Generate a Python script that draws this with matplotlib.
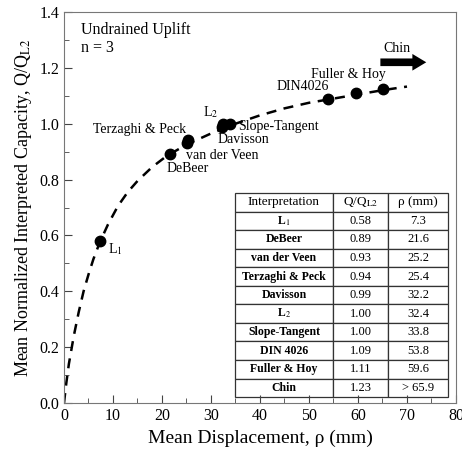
import matplotlib
matplotlib.use("Agg")
import matplotlib.pyplot as plt
from matplotlib.ticker import MultipleLocator

plt.rcParams['font.family'] = ['Liberation Serif', 'DejaVu Serif']
plt.rcParams['mathtext.fontset'] = 'stix'

# interpreted points (mean displacement, normalized capacity)
pt_x = [7.3, 21.6, 25.2, 25.4, 32.2, 32.4, 33.8, 53.8, 59.6, 65.1]
pt_y = [0.58, 0.89, 0.93, 0.94, 0.99, 1.00, 1.00, 1.09, 1.11, 1.125]

# dashed curve
curve_x = [0, 0.5, 1, 2, 3, 4, 5, 6, 7.3, 9, 11, 13, 15, 18, 21, 25, 30, 35,
           40, 45, 50, 55, 60, 65, 70]
curve_y = [0, 0.075, 0.14, 0.24, 0.325, 0.40, 0.46, 0.515, 0.575, 0.64, 0.705,
           0.755, 0.795, 0.845, 0.885, 0.925, 0.965, 1.0, 1.03, 1.055, 1.075,
           1.09, 1.105, 1.12, 1.133]

# labels on the plot: (text, x, y)
labels = [("L$_1$", 9.0, 0.55), ("DeBeer", 21.0, 0.84), ("van der Veen", 24.9, 0.885),
          ("Terzaghi & Peck", 5.9, 0.98), ("L$_2$", 28.4, 1.04), ("Davisson", 31.4, 0.945),
          ("Slope-Tangent", 35.5, 0.99), ("DIN4026", 43.3, 1.135),
          ("Fuller & Hoy", 50.4, 1.175), ("Chin", 65.1, 1.27)]

# table
tbl_methods = ["L$_1$", "DeBeer", "van der Veen", "Terzaghi & Peck", "Davisson", "L$_2$",
               "Slope-Tangent", "DIN 4026", "Fuller & Hoy", "Chin"]
tbl_q = ["0.58", "0.89", "0.93", "0.94", "0.99", "1.00", "1.00", "1.09", "1.11", "1.23"]
tbl_rho = ["7.3", "21.6", "25.2", "25.4", "32.2", "32.4", "33.8", "53.8", "59.6", "> 65.9"]
tbl_header = ["Interpretation", "Q/Q$_{\\mathrm{L2}}$", "ρ (mm)"]

fig = plt.figure(figsize=(4.62, 4.55), dpi=100)
ax = fig.add_axes([0.1385, 0.1143, 0.8485, 0.8593])

ax.plot(curve_x, curve_y, color="black", lw=1.8, ls=(0, (4, 3)), zorder=2)
ax.plot(pt_x, pt_y, "o", color="black", ms=7.5, zorder=3)

for txt, x, y in labels:
    ax.text(x, y, txt, fontsize=10, va="center", ha="left")

ax.text(3.5, 1.335, "Undrained Uplift", fontsize=11.5, va="center")
ax.text(3.5, 1.27, "n = 3", fontsize=11.5, va="center")

ax.annotate("", xy=(74.5, 1.22), xytext=(64.0, 1.22),
            arrowprops=dict(arrowstyle="simple,head_length=1.0,head_width=1.2,tail_width=0.55",
                            color="black", lw=0))

ax.set_xlim(0, 80)
ax.set_ylim(0, 1.4)
ax.xaxis.set_major_locator(MultipleLocator(10))
ax.xaxis.set_minor_locator(MultipleLocator(5))
ax.yaxis.set_major_locator(MultipleLocator(0.2))
ax.yaxis.set_minor_locator(MultipleLocator(0.1))
ax.yaxis.set_major_formatter(matplotlib.ticker.FormatStrFormatter("%.1f"))
ax.tick_params(which="both", direction="in", labelsize=11.5, colors="#444444",
               labelcolor="black", top=False, right=False)
ax.tick_params(which="major", length=6)
ax.tick_params(which="minor", length=3.5)
for s in ax.spines.values():
    s.set_color("#777777")

ax.set_xlabel("Mean Displacement, ρ (mm)", fontsize=14)
ax.set_ylabel("Mean Normalized Interpreted Capacity, Q/Q$_{\\mathrm{L2}}$", fontsize=13)

cells = [[m, q, r] for m, q, r in zip(tbl_methods, tbl_q, tbl_rho)]
tb = ax.table(cellText=cells, colLabels=tbl_header, cellLoc="center",
              bbox=[0.436, 0.015, 0.544, 0.522], colWidths=[98, 55, 60])
tb.auto_set_font_size(False)
for (r, c), cell in tb.get_celld().items():
    cell.set_edgecolor("#333333")
    cell.set_linewidth(0.9)
    cell.get_text().set_fontsize(9)
    if r > 0 and c == 0:
        cell.get_text().set_fontweight("bold")
        cell.get_text().set_fontsize(8.5)
    if r == 0:
        cell.get_text().set_fontsize(9.5)

fig.savefig("out.png", dpi=100)
